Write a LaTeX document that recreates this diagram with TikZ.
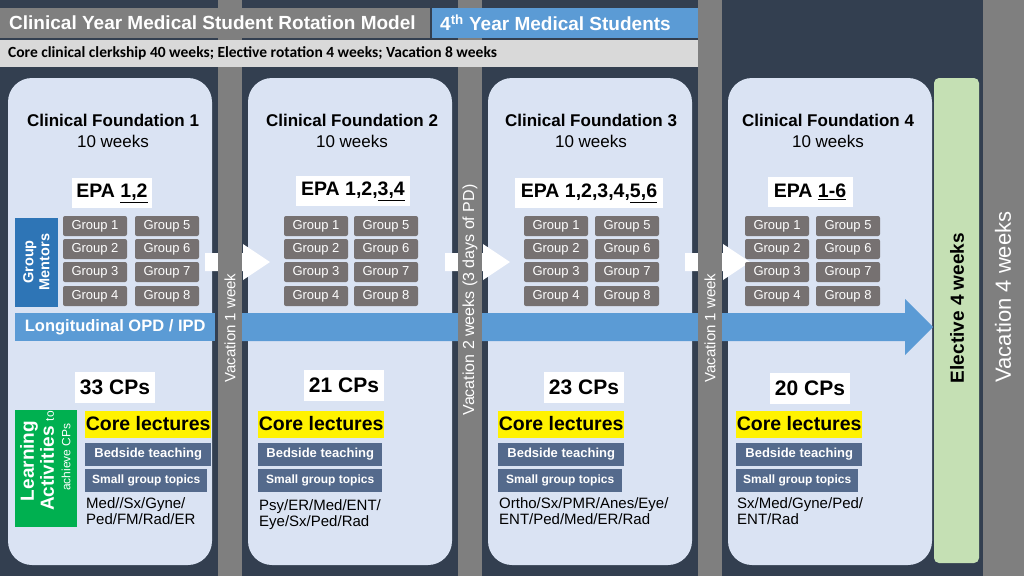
\documentclass[tikz,border=0pt]{standalone}
\usepackage{fontspec}
\setmainfont{Liberation Sans}
\newfontfamily\calib{Carlito}
\definecolor{bgnavy}{HTML}{333F50}
\definecolor{barg}{HTML}{7F7F7F}
\definecolor{panelb}{HTML}{DAE3F3}
\definecolor{hblue}{HTML}{5B9BD5}
\definecolor{grpg}{HTML}{767171}
\definecolor{slate}{HTML}{546A8C}
\definecolor{mentor}{HTML}{2E75B6}
\definecolor{learn}{HTML}{00B050}
\definecolor{elect}{HTML}{C5E0B4}
\definecolor{subh}{HTML}{D9D9D9}
\begin{document}
\begin{tikzpicture}[x=1pt,y=-1pt,
  panel/.style={fill=panelb,rounded corners=24pt},
  grp/.style={fill=grpg,rounded corners=2pt,text=white,font=\fontsize{13}{15}\selectfont,minimum width=64pt,minimum height=20pt,inner sep=0pt},
  wbox/.style={fill=white,inner sep=4pt,text=black},
  core/.style={fill=yellow,font=\bfseries\fontsize{19.5}{21}\selectfont,minimum width=126pt,minimum height=27pt,inner sep=0pt,anchor=west},
  slatebox/.style={fill=slate,text=white,font=\bfseries\fontsize{13}{15}\selectfont,minimum height=23pt,inner sep=0pt,anchor=west},
  vbar/.style={fill=barg},
  vtext/.style={rotate=90,text=white,font=\fontsize{15}{17}\selectfont}]
\fill[bgnavy] (0,0) rectangle (1024,576);
\useasboundingbox (0,0) rectangle (1024,576);
% panels
\foreach \x/\n in {8/p1,248/p2,488/p3,728/p4}
  \fill[panel] (\x,78) rectangle ++(204,487);
% white connector arrows
\foreach \x in {205,445,685}
  \fill[white] (\x,253) -- (\x+38,253) -- (\x+38,244) -- (\x+65,262) -- (\x+38,280) -- (\x+38,271) -- (\x,271) -- cycle;
% big arrow
\fill[hblue] (240,313) -- (905,313) -- (905,299) -- (933,327) -- (905,355) -- (905,341) -- (240,341) -- cycle;
\node[fill=hblue,text=white,font=\bfseries\fontsize{16.5}{18}\selectfont,minimum width=200pt,minimum height=28pt,inner sep=0pt,anchor=west] (long) at (15,327) {Longitudinal OPD / IPD};
% elective
\fill[elect,rounded corners=5pt] (934,78) rectangle (979,563);
\node[rotate=90,font=\bfseries\fontsize{19}{21}\selectfont] (elec) at (957,308) {Elective 4 weeks};
% gray bars
\fill[vbar] (218,0) rectangle (242,576);
\fill[vbar] (458,0) rectangle (482,576);
\fill[vbar] (698,0) rectangle (722,576);
\fill[vbar] (983,0) rectangle (1024,576);
\node[vtext] (v1) at (230,328) {Vacation 1 week};
\node[vtext,font=\fontsize{16}{18}\selectfont] (v2) at (470,300) {Vacation 2 weeks (3 days of PD)};
\node[vtext] (v3) at (710,328) {Vacation 1 week};
\node[vtext,font=\fontsize{22}{24}\selectfont] (v4) at (1003,297) {Vacation 4 weeks};
% header
\node[fill=barg,text=white,font=\bfseries\fontsize{19}{21}\selectfont,minimum width=430pt,minimum height=30pt,inner sep=0pt,anchor=north west] (h1) at (0,8) {};
\node[text=white,font=\bfseries\fontsize{19}{21}\selectfont,anchor=west,inner sep=0pt] (h1t) at (9,23) {Clinical Year Medical Student Rotation Model};
\node[fill=hblue,minimum width=266pt,minimum height=30pt,inner sep=0pt,anchor=north west] (h2) at (432,8) {};
\node[text=white,font=\bfseries\fontsize{19}{21}\selectfont,anchor=west,inner sep=0pt] (h2t) at (440,23) {4\textsuperscript{th} Year Medical Students};
\node[fill=subh,minimum width=698pt,minimum height=27pt,inner sep=0pt,anchor=north west] (h3) at (0,40) {};
\node[font=\calib\bfseries\fontsize{15.5}{17}\selectfont,anchor=west,inner sep=0pt] (h3t) at (8,53.5) {Core clinical clerkship 40 weeks; Elective rotation 4 weeks; Vacation 8 weeks};
% titles
\foreach \cx/\k in {113/1,352/2,591/3,828/4}{
  \node[font=\bfseries\fontsize{17}{19}\selectfont] (t\k) at (\cx,120) {Clinical Foundation \k};
  \node[font=\fontsize{17}{19}\selectfont] (w\k) at (\cx,141) {10 weeks};
}
% EPA
\node[wbox,font=\bfseries\fontsize{19.5}{21}\selectfont,minimum width=79pt,minimum height=30pt] (e1) at (112,193) {EPA \underline{1,2}};
\node[wbox,font=\bfseries\fontsize{19.5}{21}\selectfont,minimum width=114pt,minimum height=30pt] (e2) at (353,191) {EPA 1,2,\underline{3,4}};
\node[wbox,font=\bfseries\fontsize{19.5}{21}\selectfont,minimum width=148pt,minimum height=30pt] (e3) at (589,193) {EPA 1,2,3,4,\underline{5,6}};
\node[wbox,font=\bfseries\fontsize{19.5}{21}\selectfont,minimum width=85pt,minimum height=30pt] (e4) at (810,192) {EPA \underline{1-6}};
% groups
\foreach \c/\d/\k in {95/167/1,316/386/2,556/627/3,777/848/4}{
  \node[grp] (g\k a) at (\c,226) {Group 1};
  \node[grp] (g\k b) at (\c,249) {Group 2};
  \node[grp] (g\k c) at (\c,272) {Group 3};
  \node[grp] (g\k d) at (\c,296) {Group 4};
  \node[grp] (g\k e) at (\d,226) {Group 5};
  \node[grp] (g\k f) at (\d,249) {Group 6};
  \node[grp] (g\k g) at (\d,272) {Group 7};
  \node[grp] (g\k h) at (\d,296) {Group 8};
}
\node[fill=mentor,minimum width=43pt,minimum height=89pt,inner sep=0pt] (gm) at (36.5,262) {};
\node[rotate=90,text=white,font=\bfseries\fontsize{14.5}{16}\selectfont,align=center] (gmt) at (gm) {Group\\Mentors};
% CPs
\node[wbox,font=\bfseries\fontsize{21}{23}\selectfont,minimum width=80pt,minimum height=31pt] (c1) at (115,387) {33 CPs};
\node[wbox,font=\bfseries\fontsize{21}{23}\selectfont,minimum width=80pt,minimum height=31pt] (c2) at (344,385) {21 CPs};
\node[wbox,font=\bfseries\fontsize{21}{23}\selectfont,minimum width=80pt,minimum height=31pt] (c3) at (584,387) {23 CPs};
\node[wbox,font=\bfseries\fontsize{21}{23}\selectfont,minimum width=80pt,minimum height=31pt] (c4) at (810,388) {20 CPs};
% learning activities
\node[fill=learn,minimum width=62pt,minimum height=117pt,inner sep=0pt] (la) at (46,468) {};
\node[rotate=90,text=white,align=center,font=\bfseries\fontsize{19}{20}\selectfont] (lat) at (37,461) {Learning\\Activities {\mdseries\fontsize{12}{13}\selectfont to}};
\node[rotate=90,text=white,font=\fontsize{12}{13}\selectfont] (lat2) at (66,457) {achieve CPs};
% lectures
\foreach \lx/\k/\bw/\sw in {85/1/126/122,258/2/124/124,498/3/126/124,736/4/126/122}{
  \node[core] (cl\k) at (\lx,424) {Core lectures};
  \node[slatebox,minimum width=\bw pt] (bt\k) at (\lx,454) {Bedside teaching};
  \node[slatebox,minimum width=\sw pt,font=\bfseries\fontsize{12}{14}\selectfont] (sg\k) at (\lx,480) {Small group topics};
}
\node[anchor=north west,align=left,font=\fontsize{15}{16.5}\selectfont,inner sep=0pt] (s1) at (86,497) {Med//Sx/Gyne/\\Ped/FM/Rad/ER};
\node[anchor=north west,align=left,font=\fontsize{15}{16.5}\selectfont,inner sep=0pt] (s2) at (259,499) {Psy/ER/Med/ENT/\\Eye/Sx/Ped/Rad};
\node[anchor=north west,align=left,font=\fontsize{15}{16.5}\selectfont,inner sep=0pt] (s3) at (499,497) {Ortho/Sx/PMR/Anes/Eye/\\ENT/Ped/Med/ER/Rad};
\node[anchor=north west,align=left,font=\fontsize{15}{16.5}\selectfont,inner sep=0pt] (s4) at (737,497) {Sx/Med/Gyne/Ped/\\ENT/Rad};
\end{tikzpicture}
\end{document}
